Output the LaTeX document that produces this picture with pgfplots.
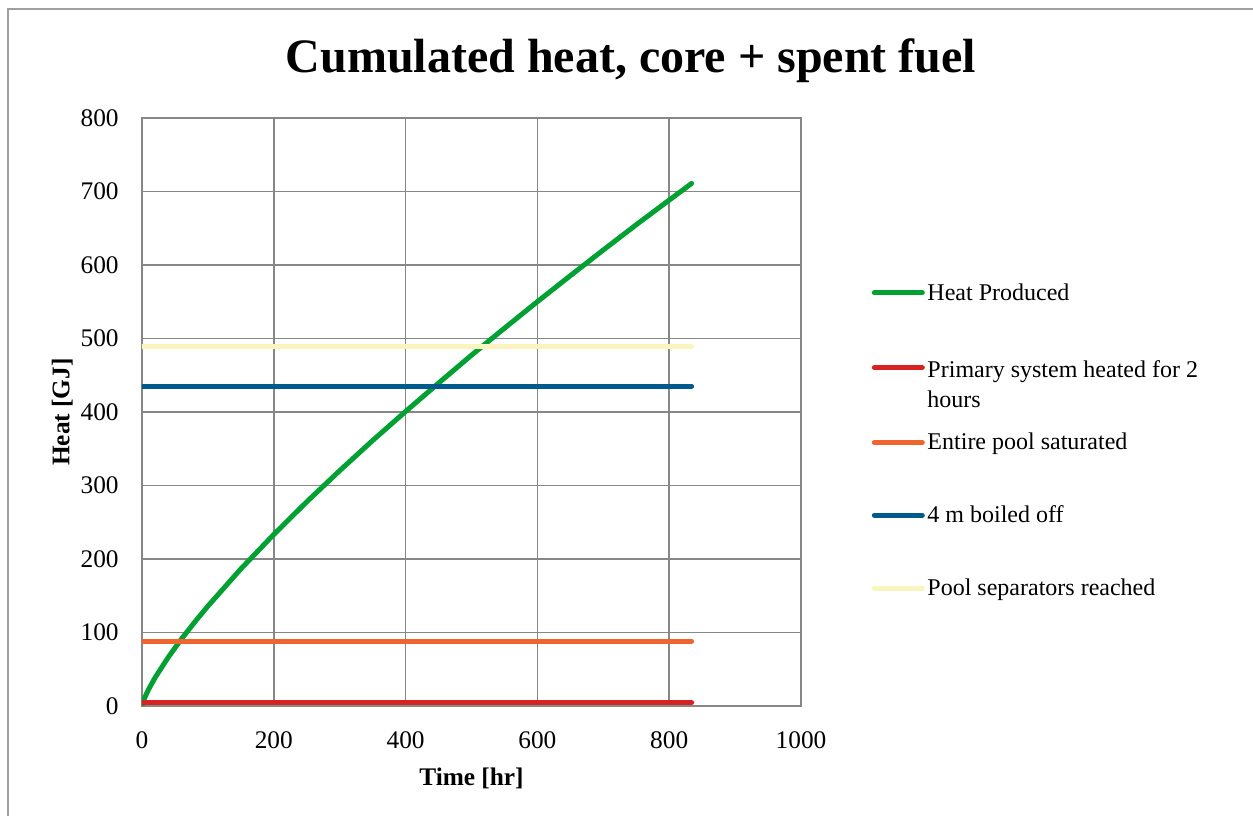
\documentclass[border=0pt]{standalone}
\usepackage{fontspec}
\setmainfont{Liberation Serif}
\usepackage{pgfplots}
\pgfplotsset{compat=1.18}
\definecolor{cgreen}{RGB}{0,160,50}
\definecolor{cred}{RGB}{214,34,34}
\definecolor{corange}{RGB}{240,100,48}
\definecolor{cblue}{RGB}{0,90,140}
\definecolor{cyellow}{RGB}{250,245,190}
\definecolor{cgrid}{RGB}{135,135,135}
\begin{document}
\begin{tikzpicture}
\useasboundingbox (-106.5pt,-82.5pt) rectangle (833.25pt,529.5pt);
\draw[cgrid!80, line width=0.9pt] (-100.5pt,-90pt) -- (-100.5pt,522.75pt) -- (840pt,522.75pt);
\begin{axis}[
  scale only axis, width=494.25pt, height=441pt,
  xmin=0, xmax=1000, ymin=0, ymax=800,
  xtick={0,200,...,1000}, ytick={0,100,...,800},
  grid=major,
  major grid style={color=cgrid, line width=1.1pt},
  axis line style={color=cgrid, line width=1.1pt},
  tick style={draw=none},
  /pgf/number format/assume math mode=true,
  /pgf/number format/1000 sep={},
  ticklabel style={font=\fontsize{19}{22}\selectfont},
  yticklabel style={xshift=-14pt},
  xticklabel style={yshift=-16pt},
  title={\textbf{Cumulated heat, core + spent fuel}},
  title style={at={(axis description cs:0.742,1.063)}, anchor=base, font=\fontsize{36}{40}\selectfont},
  xlabel={\textbf{Time [hr]}},
  xlabel style={at={(axis description cs:0.5,-0.136)}, anchor=base, font=\fontsize{19}{22}\selectfont},
  ylabel={\textbf{Heat [GJ]}},
  ylabel style={at={(axis description cs:-0.121,0.5)}, anchor=center, font=\fontsize{19}{22}\selectfont},
  legend style={at={(axis description cs:1.101,0.728)}, anchor=north west, draw=none, fill=none,
    font=\fontsize{18}{22.5}\selectfont, row sep=36.5pt,
    /tikz/every even column/.append style={column sep=0pt}},
  legend cell align=left,
  legend image code/.code={\draw[#1, line cap=round] (0pt,0pt) -- (36pt,0pt);},
  every axis plot/.append style={line width=3.75pt, line cap=round},
]
\addplot[cgreen, no marks] coordinates {
(0,0) (2,6.4) (5,13.1) (10,22.6) (20,38.8) (40,66.5) (60,91.3) (80,114.2)
(100,135.9) (150,186.5) (200,233.4) (250,277.8) (300,320.2) (350,361.2)
(400,400.7) (450,439.3) (500,477.3) (550,514.0) (600,550.1) (650,585.5)
(700,620.4) (750,654.8) (800,688.3) (834,711)
};
\addlegendentry{Heat Produced}
\addplot[cred, no marks] coordinates {(0,4.5) (834,4.5)};
\addlegendentry{\raisebox{0pt}[\height][2pt]{\begin{tabular}[t]{@{}l@{}}Primary system heated for 2\\hours\end{tabular}}}
\addplot[corange, no marks] coordinates {(0,88) (834,88)};
\addlegendentry{Entire pool saturated}
\addplot[cblue, no marks] coordinates {(0,435) (834,435)};
\addlegendentry{4 m boiled off}
\addplot[cyellow, no marks] coordinates {(0,489) (834,489)};
\addlegendentry{Pool separators reached}
\end{axis}
\end{tikzpicture}
\end{document}
